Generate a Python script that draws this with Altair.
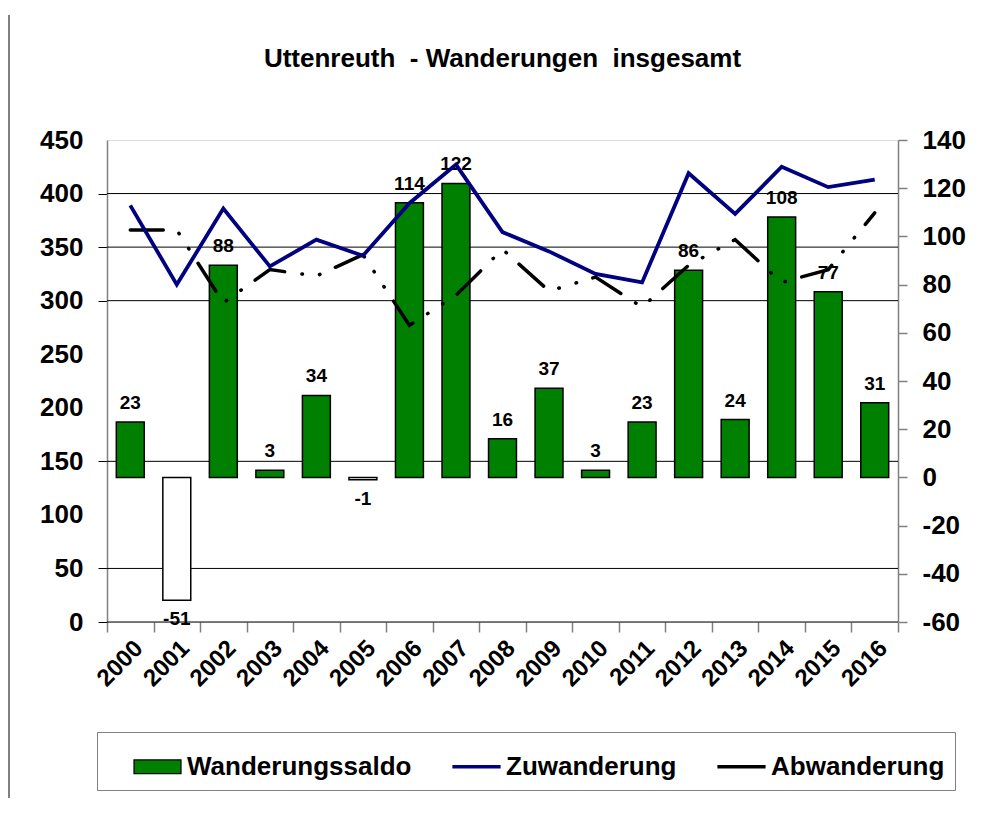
import altair as alt
import pandas as pd

years = [str(y) for y in range(2000, 2017)]
saldo = [23, -51, 88, 3, 34, -1, 114, 122, 16, 37, 3, 23, 86, 24, 108, 77, 31]
zuwanderung = [389, 315, 386, 332, 357, 342, 391, 427, 364, 346, 325, 317, 419, 381, 425, 406, 413]
abwanderung = [366, 366, 298, 329, 323, 343, 277, 305, 348, 309, 322, 294, 333, 357, 317, 329, 382]
grid_values = [0, 50, 150, 300, 350, 400]
left_ticks = list(range(0, 451, 50))
right_ticks = list(range(-60, 141, 20))
series = ["Wanderungssaldo", "Zuwanderung", "Abwanderung"]
series_fill = ["#008000", "#000080", "#000000"]
series_stroke = ["#000000", "#000080", "#000000"]

FONT = "Liberation Sans"
W, H = 791, 482

df = pd.DataFrame({"Jahr": years, "Saldo": saldo, "Zu": zuwanderung, "Ab": abwanderung})
base = alt.Chart(df).transform_calculate(Label="'' + datum.Saldo")

left_scale = alt.Scale(domain=[0, 450], nice=False, zero=False)
right_scale = alt.Scale(domain=[-60, 140], nice=False, zero=False)

x_enc = alt.X(
    "Jahr:N", sort=years,
    scale=alt.Scale(paddingInner=0, paddingOuter=0),
    axis=alt.Axis(title=None, labelAngle=-45, labelFont=FONT, labelFontSize=24,
                  labelFontWeight="bold", labelColor="black", tickBand="extent",
                  tickSize=10, tickColor="#808080", tickWidth=1.5, domain=False,
                  labelPadding=4, grid=False),
)

# vertical frame line at the very left of the picture
frame_line = alt.Chart(pd.DataFrame({"a": [0]})).mark_rule(color="#808080", strokeWidth=2).encode(
    x=alt.value(-98), y=alt.value(-125), y2=alt.value(700)
)

grid = alt.Chart(pd.DataFrame({"v": grid_values})).mark_rule(color="black", strokeWidth=1).encode(
    y=alt.Y("v:Q", scale=left_scale,
            axis=alt.Axis(orient="left", values=grid_values, labels=False, ticks=True,
                          tickSize=9, tickColor="black", domain=False, grid=False, title=None))
)

bars = base.mark_bar(stroke="black", strokeWidth=1.5, width=alt.RelativeBandSize(0.6)).encode(
    x=x_enc,
    y=alt.Y("Saldo:Q", scale=right_scale,
            axis=alt.Axis(orient="right", values=right_ticks, title=None, labelFont=FONT,
                          labelFontSize=26, labelFontWeight="bold", labelColor="black",
                          labelExpr="'' + datum.value",
                          tickSize=9, tickColor="#808080", tickWidth=1.5,
                          domainColor="#808080", domainWidth=1.5, labelPadding=15, grid=False)),
    y2=alt.datum(0),
    fill=alt.condition(alt.datum.Saldo < 0, alt.value("white"), alt.value("#008000")),
)

pos_labels = base.transform_filter("datum.Saldo >= 0").mark_text(
    font=FONT, fontSize=19, fontWeight="bold", color="black", baseline="alphabetic", dy=-13
).encode(x=x_enc, y=alt.Y("Saldo:Q", scale=right_scale, axis=None), text="Label:N")

neg_labels = base.transform_filter("datum.Saldo < 0").mark_text(
    font=FONT, fontSize=19, fontWeight="bold", color="black", baseline="top", dy=10
).encode(x=x_enc, y=alt.Y("Saldo:Q", scale=right_scale, axis=None), text="Label:N")

ab_line = base.mark_line(color="black", strokeWidth=3.5, strokeCap="round",
                         strokeDash=[33, 17.5, 0.5, 17.5, 0.5, 17]).encode(
    x=x_enc, y=alt.Y("Ab:Q", scale=left_scale, axis=None)
)

zu_line = base.mark_line(color="#000080", strokeWidth=3.8).encode(
    x=x_enc,
    y=alt.Y("Zu:Q", scale=left_scale,
            axis=alt.Axis(orient="left", values=left_ticks, title=None, labelFont=FONT,
                          labelFontSize=26, labelFontWeight="bold", labelColor="black",
                          tickSize=9, tickOpacity=0, domainColor="#808080", domainWidth=1.5,
                          labelPadding=15, grid=False)),
)

rect_path = "M-1,-0.29L1,-0.29L1,0.29L-1,0.29Z"
line_path = "M-1,-0.05L1,-0.05L1,0.05L-1,0.05Z"
leg = alt.Legend(
    title=None, orient="none", legendX=-10, legendY=592, direction="horizontal",
    labelFont=FONT, labelFontSize=26, labelFontWeight="bold", labelColor="black",
    labelLimit=400, symbolSize=2209, symbolStrokeWidth=1.2, strokeColor="#808080",
    padding=10, columnPadding=14, labelOffset=5, symbolOpacity=1, symbolOffset=26,
)
legend_layer = alt.Chart(pd.DataFrame({"Serie": series})).transform_filter("false").mark_point(
    filled=True, opacity=1
).encode(
    fill=alt.Fill("Serie:N", scale=alt.Scale(domain=series, range=series_fill), legend=leg),
    stroke=alt.Stroke("Serie:N", scale=alt.Scale(domain=series, range=series_stroke), legend=leg),
    shape=alt.Shape("Serie:N", scale=alt.Scale(domain=series, range=[rect_path, line_path, line_path]), legend=leg),
)

chart = alt.layer(
    frame_line, grid, bars, pos_labels, neg_labels, ab_line, zu_line, legend_layer
).resolve_scale(y="independent").properties(
    width=W, height=H,
    title=alt.TitleParams(text="Uttenreuth\u00a0 - Wanderungen\u00a0 insgesamt", font=FONT,
                          fontSize=26, fontWeight="bold", color="black", anchor="middle",
                          frame="group", baseline="alphabetic", offset=-79),
    autosize=alt.AutoSizeParams(type="none"),
    padding={"left": 99, "top": 132, "right": 83, "bottom": 176},
).configure_view(stroke=None).configure(background="white")

chart.save("out.html", embed_options={"renderer": "svg", "actions": False})
